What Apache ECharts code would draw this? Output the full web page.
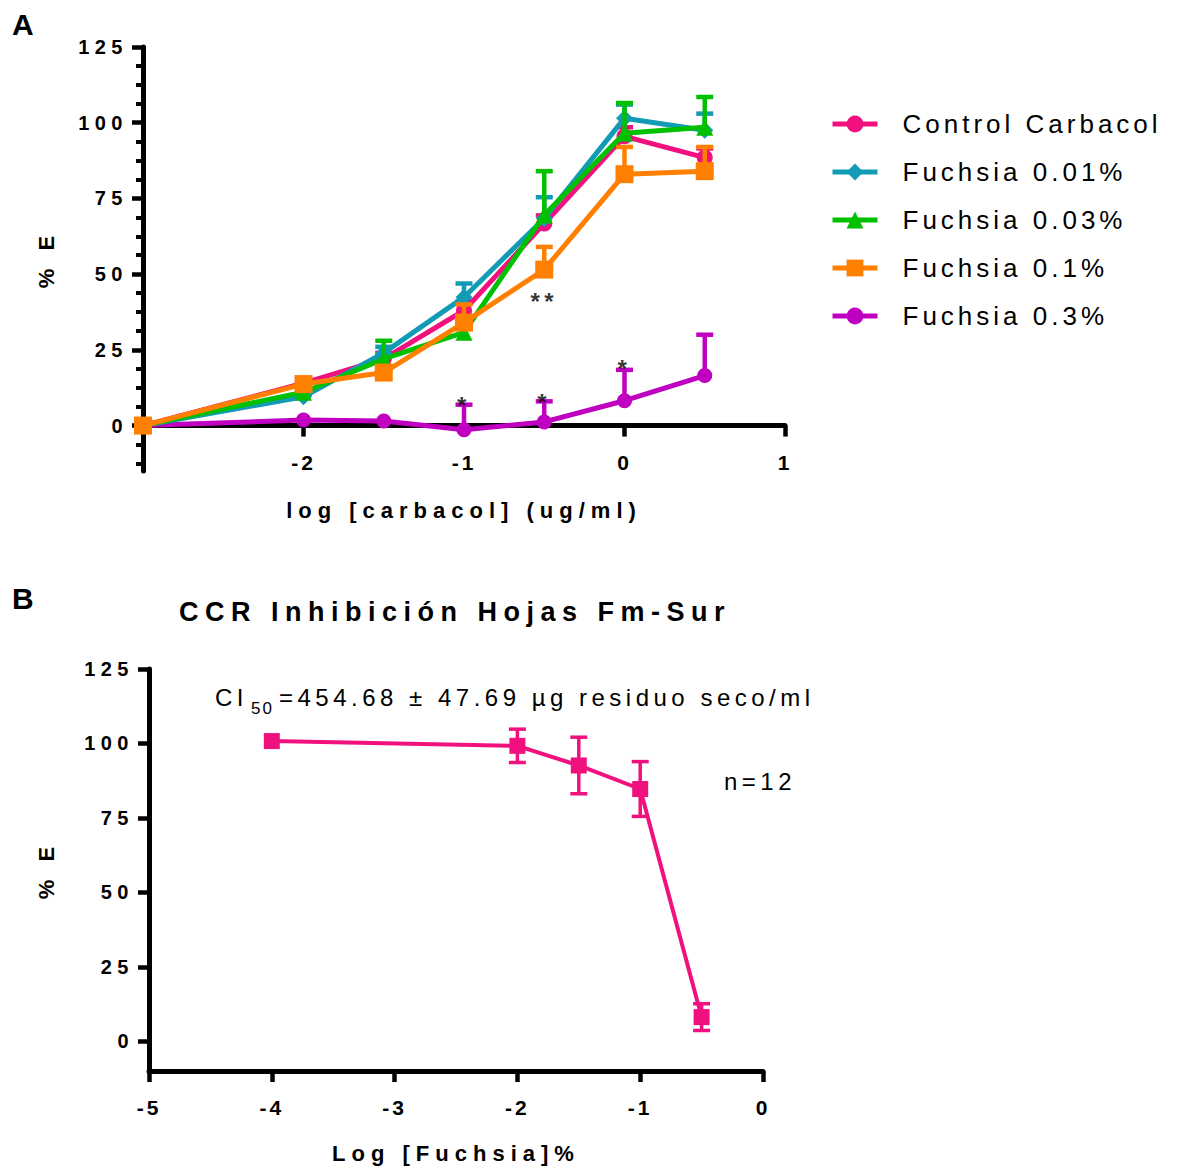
<!DOCTYPE html>
<html>
<head>
<meta charset="utf-8">
<script src="https://cdn.jsdelivr.net/npm/echarts@6/dist/echarts.min.js"></script>
<style>
html,body{margin:0;padding:0;background:#fff;}
#c{width:1180px;height:1168px;}
#c text[style*="20px"]{letter-spacing:5.5px;}
#c text[style*="21px"]{letter-spacing:3px;}
#c text[style*="22px"]{letter-spacing:6px;}
#c text[style*="26px"]{letter-spacing:4px;}
#c text[style*="27px"]{letter-spacing:6.5px;}
#c text[style*="24px"]{letter-spacing:4.5px;}
#c text[style*="17px"]{letter-spacing:2px;}
</style>
</head>
<body>
<div id="c"></div>
<script>
// ---------- Panel A data ----------
const xA = [-3, -2, -1.5, -1, -0.5, 0, 0.5];
const seriesNamesA = ['Control Carbacol', 'Fuchsia 0.01%', 'Fuchsia 0.03%', 'Fuchsia 0.1%', 'Fuchsia 0.3%'];
const controlCarbacol    = [0, 14, 22, 38, 66.7, 95.5, 88.5];
const controlCarbacolErr = [0, 1, 2, 3, 2.7, 3, 3];
const fuchsia001    = [0, 9.5, 24, 42.4, 68.4, 101.5, 97.5];
const fuchsia001Err = [0, 1, 2, 4.5, 7, 4.5, 5.5];
const fuchsia003    = [0, 11, 22, 30.8, 69.5, 96.5, 98.5];
const fuchsia003Err = [0, 1, 6, 0, 14.5, 10, 10];
const fuchsia01     = [0, 13.7, 17.5, 34, 51.5, 83, 84];
const fuchsia01Err  = [0, 0, 0, 6, 7.5, 9, 8];
const fuchsia03     = [0, 1.8, 1.5, -1.4, 1.2, 8.2, 16.5];
const fuchsia03Err  = [0, 0, 0, 8.3, 6.8, 10.2, 13.5];
const sigX = [-1, -0.5, 0, -0.5];
const sigY = [6.5, 7.5, 18.8, 41];
const sigText = ['*', '*', '*', '**'];
const yTicksA = [0, 25, 50, 75, 100, 125];
const yMinorTicksA = [-12.5, -6.25, 6.25, 12.5, 18.75, 31.25, 37.5, 43.75, 56.25, 62.5, 68.75, 81.25, 87.5, 93.75, 106.25, 112.5, 118.75];
const xTicksA = [-2, -1, 0, 1];

// ---------- Panel B data ----------
const xB = [-4, -2, -1.5, -1, -0.5];
const inhibicion = [100.8, 99.2, 92.6, 84.7, 8.1];
const inhibicionErr = [0, 5.6, 9.5, 9.2, 4.5];
const yTicksB = [0, 25, 50, 75, 100, 125];
const xTicksB = [-5, -4, -3, -2, -1, 0];

// ---------- styling ----------
const FF = "'Liberation Sans', Arial, sans-serif";
const colorsA = ['#F0117F', '#129BB4', '#00C000', '#FF8000', '#C000C0'];
const symbolsA = ['circle', 'diamond', 'triangle', 'rect', 'circle'];
const symbolSizesA = [16, 17, 17, 18, 15];
const valsA = [controlCarbacol, fuchsia001, fuchsia003, fuchsia01, fuchsia03];
const errsA = [controlCarbacolErr, fuchsia001Err, fuchsia003Err, fuchsia01Err, fuchsia03Err];
const drawOrder = [4, 0, 1, 2, 3];
const pinkB = '#F0117F';

function errRender(color, capHalf, lw, both) {
  return function (params, api) {
    const x = api.value(0), y = api.value(1), e = api.value(2);
    if (!e) return null;
    const pTop = api.coord([x, y + e]);
    const pBot = api.coord([x, both ? y - e : y]);
    const st = { stroke: color, lineWidth: lw };
    const children = [
      { type: 'line', shape: { x1: pBot[0], y1: pBot[1], x2: pTop[0], y2: pTop[1] }, style: st },
      { type: 'line', shape: { x1: pTop[0] - capHalf, y1: pTop[1], x2: pTop[0] + capHalf, y2: pTop[1] }, style: st }
    ];
    if (both) {
      children.push({ type: 'line', shape: { x1: pBot[0] - capHalf, y1: pBot[1], x2: pBot[0] + capHalf, y2: pBot[1] }, style: st });
    }
    return { type: 'group', children: children };
  };
}

const series = [];
drawOrder.forEach(function (k, idx) {
  series.push({
    type: 'custom', name: seriesNamesA[k] + ' SEM', xAxisIndex: 0, yAxisIndex: 0,
    renderItem: errRender(colorsA[k], 8.5, 4.5, false),
    data: xA.map(function (x, i) { return [x, valsA[k][i], errsA[k][i]]; }),
    encode: { x: 0, y: 1 }, z: 3 + idx, silent: true, clip: false
  });
  series.push({
    type: 'line', name: seriesNamesA[k], xAxisIndex: 0, yAxisIndex: 0,
    data: xA.map(function (x, i) { return [x, valsA[k][i]]; }),
    symbol: symbolsA[k], symbolSize: symbolSizesA[k], showAllSymbol: true,
    lineStyle: { color: colorsA[k], width: 5 },
    itemStyle: { color: colorsA[k], opacity: 1 },
    z: 3 + idx, clip: false, silent: true
  });
});
series.push({
  type: 'scatter', name: 'sig', xAxisIndex: 0, yAxisIndex: 0,
  data: sigX.map(function (x, i) { return { name: sigText[i], value: [x, sigY[i]] }; }),
  symbolSize: 1, itemStyle: { color: 'rgba(0,0,0,0)' },
  label: { show: true, position: 'inside', formatter: function (p) { return p.name; },
           fontSize: 24, fontWeight: 'bold', fontFamily: FF, color: '#000' },
  z: 20, silent: true
});
series.push({
  type: 'custom', name: 'B SEM', xAxisIndex: 1, yAxisIndex: 2,
  renderItem: errRender(pinkB, 8.5, 3.5, true),
  data: xB.map(function (x, i) { return [x, inhibicion[i], inhibicionErr[i]]; }),
  encode: { x: 0, y: 1 }, z: 3, silent: true, clip: false
});
series.push({
  type: 'line', name: 'CCR Inhibición', xAxisIndex: 1, yAxisIndex: 2,
  data: xB.map(function (x, i) { return [x, inhibicion[i]]; }),
  symbol: 'rect', symbolSize: 16, lineStyle: { color: pinkB, width: 4 },
  itemStyle: { color: pinkB }, z: 4, clip: false, silent: true
});

const axisLineStyle = { color: '#000', width: 5 };
const tickStyle = { color: '#000', width: 4.5 };
const tickLabel = function (size, margin, vals) {
  return { fontSize: size, fontWeight: 'bold', fontFamily: FF, color: '#000', margin: margin, customValues: vals };
};
const nameStyle = { fontSize: 22, fontWeight: 'bold', fontFamily: FF, color: '#000' };

// grid A: 125 at y=47, -15 at y=471 -> zero line offset from bottom
const gridATop = 47, gridAHeight = 424, yMinA = -15, yMaxA = 125;
const zeroOffsetA = -gridAHeight * (0 - yMinA) / (yMaxA - yMinA);

const option = {
  animation: false,
  backgroundColor: '#fff',
  grid: [
    { left: 143, top: gridATop, width: 642, height: gridAHeight },
    { left: 149, top: 669, width: 614, height: 402 }
  ],
  xAxis: [
    { type: 'value', gridIndex: 0, min: -3, max: 1, interval: 1, position: 'bottom', offset: zeroOffsetA,
      axisLine: { show: true, onZero: false, lineStyle: axisLineStyle },
      axisTick: { show: true, length: 11, lineStyle: tickStyle, customValues: xTicksA },
      axisLabel: tickLabel(21, 26, xTicksA),
      splitLine: { show: false },
      name: 'log [carbacol] (ug/ml)', nameLocation: 'middle', nameGap: 74, nameTextStyle: nameStyle },
    { type: 'value', gridIndex: 1, min: -5, max: 0, interval: 1, position: 'bottom',
      axisLine: { show: true, onZero: false, lineStyle: axisLineStyle },
      axisTick: { show: true, length: 11, lineStyle: tickStyle, customValues: xTicksB },
      axisLabel: tickLabel(21, 26, xTicksB),
      splitLine: { show: false },
      name: 'Log [Fuchsia]%', nameLocation: 'middle', nameGap: 71, nameTextStyle: nameStyle }
  ],
  yAxis: [
    { type: 'value', gridIndex: 0, min: yMinA, max: yMaxA, position: 'left',
      axisLine: { show: true, onZero: false, lineStyle: axisLineStyle },
      axisTick: { show: true, length: 11, lineStyle: tickStyle, customValues: yTicksA },
      axisLabel: tickLabel(20, 15, yTicksA),
      splitLine: { show: false },
      name: '% E', nameLocation: 'middle', nameRotate: 90, nameGap: 86, nameTextStyle: nameStyle },
    { type: 'value', gridIndex: 0, min: yMinA, max: yMaxA, position: 'left', offset: 0,
      axisLine: { show: false, onZero: false },
      axisTick: { show: true, length: 7, lineStyle: { color: '#000', width: 4 }, customValues: yMinorTicksA },
      axisLabel: { show: false },
      splitLine: { show: false } },
    { type: 'value', gridIndex: 1, min: -10, max: 125, position: 'left',
      axisLine: { show: true, onZero: false, lineStyle: axisLineStyle },
      axisTick: { show: true, length: 11, lineStyle: tickStyle, customValues: yTicksB },
      axisLabel: tickLabel(20, 15, yTicksB),
      splitLine: { show: false },
      name: '% E', nameLocation: 'middle', nameRotate: 90, nameGap: 92, nameTextStyle: nameStyle }
  ],
  legend: {
    data: seriesNamesA, orient: 'vertical', left: 825, top: 106,
    itemWidth: 45, itemHeight: 21, itemGap: 22, selectedMode: false,
    lineStyle: { width: 5 },
    textStyle: { fontSize: 26, fontFamily: FF, color: '#000', padding: [0, 0, 0, 20] }
  },
  graphic: [
    { type: 'text', x: 12, y: 24, style: { text: 'A', font: 'bold 30px ' + FF, fill: '#000', verticalAlign: 'middle' } },
    { type: 'text', x: 12, y: 598, style: { text: 'B', font: 'bold 30px ' + FF, fill: '#000', verticalAlign: 'middle' } },
    { type: 'text', x: 455, y: 612, style: { text: 'CCR Inhibición Hojas Fm-Sur', font: 'bold 27px ' + FF, fill: '#000', align: 'center', verticalAlign: 'middle' } },
    { type: 'text', x: 215, y: 697, style: { text: 'CI', font: '24px ' + FF, fill: '#000', verticalAlign: 'middle' } },
    { type: 'text', x: 251, y: 708, style: { text: '50', font: '17px ' + FF, fill: '#000', verticalAlign: 'middle' } },
    { type: 'text', x: 279, y: 697, style: { text: '=454.68 ± 47.69 µg residuo seco/ml', font: '24px ' + FF, fill: '#000', verticalAlign: 'middle' } },
    { type: 'text', x: 724, y: 781, style: { text: 'n=12', font: '24px ' + FF, fill: '#000', verticalAlign: 'middle' } }
  ],
  series: series
};

const chart = echarts.init(document.getElementById('c'), null, { renderer: 'svg', width: 1180, height: 1168 });
chart.setOption(option);
</script>
</body>
</html>
